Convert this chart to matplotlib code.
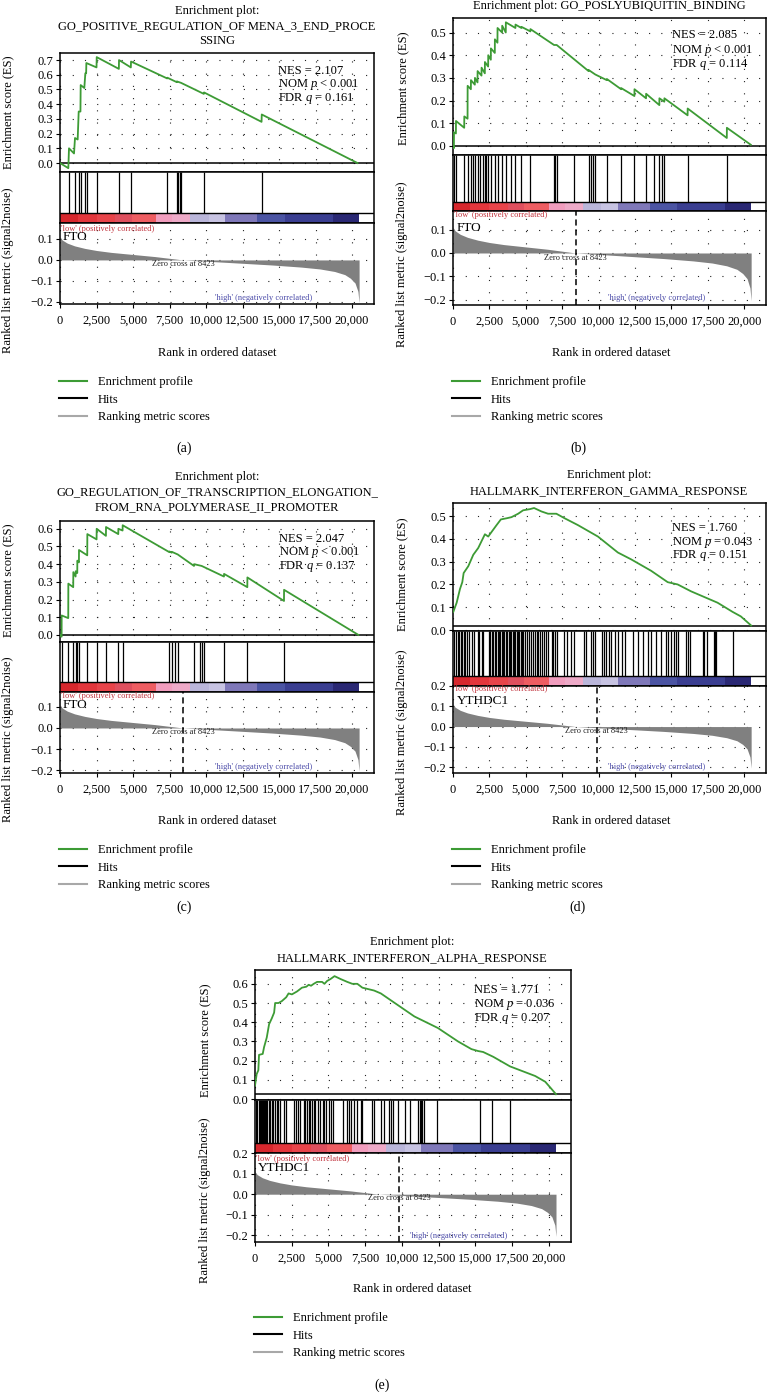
import matplotlib
matplotlib.use('Agg')
import matplotlib.pyplot as plt
from matplotlib.lines import Line2D
import numpy as np

plt.rcParams['font.family'] = ['Liberation Serif', 'DejaVu Serif']
plt.rcParams['mathtext.fontset'] = 'custom'
plt.rcParams['mathtext.it'] = 'Liberation Serif:italic'
plt.rcParams['mathtext.rm'] = 'Liberation Serif'
plt.rcParams['axes.unicode_minus'] = True

W, H, DPI = 769, 1392, 100

# ---------------- shared data ----------------
X_TICKS = [0, 2500, 5000, 7500, 10000, 12500, 15000, 17500, 20000]
RANK_PTS = [0, 150, 500, 1000, 1700, 2500, 3500, 5000, 6500, 8423, 10500, 12500,
            14500, 16500, 17800, 18800, 19500, 19900, 20200, 20400, 20480]
METRIC_PTS = [0.11, 0.095, 0.08, 0.067, 0.055, 0.045, 0.036, 0.026, 0.016, 0.0, -0.008,
              -0.016, -0.024, -0.034, -0.043, -0.055, -0.07, -0.088, -0.11, -0.15, -0.205]
CB_EDGES = [0, 1200, 2500, 3800, 4900, 6600, 7700, 8900, 10200, 11300, 13500, 15400, 18700, 20500]
CB_COLORS = ['#d7272d', '#e3363c', '#e8444a', '#df4f5e', '#ee5d62', '#f19dbe', '#eeaac8',
             '#bab6da', '#c7c3e2', '#7f78b9', '#4b54a3', '#3a3e91', '#2a2874']
LEGEND_LABELS = ['Enrichment profile', 'Hits', 'Ranking metric scores']
LOW_TEXT = "'low' (positively correlated)"
HIGH_TEXT = "'high' (negatively correlated)"
ZERO_TEXT = 'Zero cross at 8423'

# ---------------- panel (a) ----------------
A_TITLE = ['Enrichment plot:', 'GO_POSITIVE_REGULATION_OF MENA_3_END_PROCE', 'SSING']
A_HITS = [616, 1027, 1301, 1418, 1712, 1829, 2514, 4041, 4863, 7349, 7993, 8103, 8219,
          8288, 9863, 13815]
A_ES_RANK = [0, 570, 616, 960, 1027, 1210, 1280, 1400, 1416, 1665, 1735, 1790, 1804, 2500,
             2514, 4030, 4041, 4850, 4863, 7340, 7352, 7990, 8000, 8290, 9850, 9863, 13800,
             13815, 20370]
A_ES_VAL = [0.0, -0.035, 0.10, 0.065, 0.17, 0.16, 0.35, 0.35, 0.53, 0.51, 0.61, 0.61, 0.68,
            0.65, 0.72, 0.64, 0.70, 0.65, 0.69, 0.575, 0.58, 0.55, 0.555, 0.545, 0.47, 0.48,
            0.28, 0.33, 0.0]
A_STATS = ['NES = 2.107', 'NOM $p$ < 0.001', 'FDR $q$ = 0.161']
A_GENE = 'FTO'
A_ES_TICKS = [0.0, 0.1, 0.2, 0.3, 0.4, 0.5, 0.6, 0.7]
A_RK_TICKS = [-0.2, -0.1, 0.0, 0.1]

# ---------------- panel (b) ----------------
B_TITLE = ['Enrichment plot: GO_POSLYUBIQUITIN_BINDING']
B_HITS = [68, 205, 776, 1005, 1233, 1370, 1507, 1689, 1849, 2032, 2192, 2260, 2420, 2603,
          2877, 3059, 3379, 3630, 3973, 4292, 4703, 5320, 6941, 7032, 7123, 8311, 9315,
          9452, 9589, 9772, 10571, 11553, 12466, 13265, 13790, 14178, 14338, 14521,
          16119, 18813]
B_ES_RANK = [0, 60, 68, 200, 205, 770, 776, 1000, 1005, 1228, 1233, 1500, 1507, 1684, 1689,
             1958, 1963, 2187, 2192, 2415, 2420, 2598, 2603, 2872, 2877, 3054, 3059, 3374,
             3379, 3625, 3630, 4287, 4292, 4698, 4703, 5315, 5320, 6941, 7123, 9310, 9315,
             9772, 10566, 10571, 11548, 11553, 12461, 12466, 13260, 13265, 14173, 14178,
             14516, 14521, 16114, 16119, 18808, 18813, 20457]
B_ES_VAL = [0.0, -0.01, 0.06, 0.055, 0.11, 0.08, 0.13, 0.12, 0.265, 0.25, 0.29, 0.27, 0.30,
            0.28, 0.33, 0.31, 0.345, 0.32, 0.37, 0.35, 0.40, 0.38, 0.43, 0.41, 0.47, 0.455,
            0.52, 0.50, 0.53, 0.50, 0.545, 0.52, 0.535, 0.52, 0.525, 0.505, 0.515, 0.445,
            0.445, 0.33, 0.335, 0.315, 0.29, 0.295, 0.25, 0.255, 0.22, 0.25, 0.21, 0.23,
            0.18, 0.21, 0.195, 0.21, 0.135, 0.165, 0.035, 0.08, 0.005]
B_STATS = ['NES = 2.085', 'NOM $p$ < 0.001', 'FDR $q$ = 0.114']
B_GENE = 'FTO'
B_ZERO_POS = 8423
B_ES_TICKS = [0.0, 0.1, 0.2, 0.3, 0.4, 0.5]
B_RK_TICKS = [-0.2, -0.1, 0.0, 0.1]

# ---------------- panel (c) ----------------
C_TITLE = ['Enrichment plot:', 'GO_REGULATION_OF_TRANSCRIPTION_ELONGATION_',
           'FROM_RNA_POLYMERASE_II_PROMOTER']
C_HITS = [114, 571, 913, 1073, 1187, 1301, 1872, 2511, 3151, 3995, 4292, 7489, 7648, 7877,
          8059, 9178, 9589, 9703, 9863, 11233, 12831, 15342]
C_ES_RANK = [0, 110, 114, 565, 571, 905, 913, 1068, 1073, 1182, 1187, 1296, 1301, 1865,
             1872, 2505, 2511, 3145, 3151, 3990, 3995, 4285, 4292, 7485, 7489, 7645, 7648,
             8059, 9175, 9178, 9700, 11228, 11233, 12826, 12831, 15337, 15342, 20434]
C_ES_VAL = [0.0, -0.01, 0.11, 0.095, 0.29, 0.27, 0.355, 0.33, 0.36, 0.35, 0.42, 0.41, 0.48,
            0.45, 0.57, 0.54, 0.60, 0.56, 0.61, 0.57, 0.60, 0.59, 0.62, 0.468, 0.472, 0.465,
            0.47, 0.455, 0.39, 0.40, 0.39, 0.33, 0.345, 0.27, 0.325, 0.192, 0.255, 0.0]
C_STATS = ['NES = 2.047', 'NOM $p$ < 0.001', 'FDR $q$ = 0.137']
C_GENE = 'FTO'
C_ZERO_POS = 8423
C_ES_TICKS = [0.0, 0.1, 0.2, 0.3, 0.4, 0.5, 0.6]
C_RK_TICKS = [-0.2, -0.1, 0.0, 0.1]

# ---------------- panel (d) ----------------
D_TITLE = ['Enrichment plot:', 'HALLMARK_INTERFERON_GAMMA_RESPONSE']
D_HITS = [91, 183, 320, 411, 548, 639, 731, 822, 959, 1096, 1324, 1461, 1689, 1804, 1963,
          2078, 2466, 2557, 2648, 2763, 2877, 2968, 3059, 3151, 3242, 3333, 3425, 3516,
          3607, 3699, 3836, 3927, 4018, 4110, 4201, 4292, 4384, 4475, 4566, 4658, 4749,
          4840, 4932, 5068, 5205, 5342, 5479, 5616, 5753, 5845, 5982, 6119, 6256, 6393,
          6530, 6804, 6895, 7032, 7169, 7626, 7854, 8082, 8311, 8995, 9155, 9452, 9612,
          9726, 10228, 10365, 10525, 10685, 10868, 11096, 11324, 11598, 11781, 12352,
          12740, 13037, 13379, 13607, 13950, 14292, 14635, 14795, 14977, 15160, 15320,
          15434, 16005, 16164, 16301, 17146, 17260, 17443, 17900, 17991, 18082, 19201]
D_ES_RANK = [23, 251, 479, 639, 731, 1050, 1393, 1735, 1963, 2192, 2420, 2648, 2991, 3288,
             3676, 4018, 4475, 4817, 5274, 5570, 6073, 6529, 7100, 7671, 8584, 9954, 11324,
             12237, 13607, 14749, 15434, 16347, 17260, 18173, 19200, 19771, 20480]
D_ES_VAL = [0.08, 0.12, 0.18, 0.21, 0.25, 0.28, 0.33, 0.36, 0.39, 0.42, 0.41, 0.43, 0.46,
            0.485, 0.49, 0.495, 0.51, 0.525, 0.53, 0.535, 0.52, 0.51, 0.51, 0.49, 0.46, 0.41,
            0.34, 0.31, 0.26, 0.21, 0.20, 0.17, 0.145, 0.12, 0.08, 0.06, 0.02]
D_STATS = ['NES = 1.760', 'NOM $p$ = 0.043', 'FDR $q$ = 0.151']
D_GENE = 'YTHDC1'
D_ZERO_POS = 9860
D_ES_TICKS = [0.0, 0.1, 0.2, 0.3, 0.4, 0.5]
D_RK_TICKS = [-0.2, -0.1, 0.0, 0.1, 0.2]

# ---------------- panel (e) ----------------
E_TITLE = ['Enrichment plot:', 'HALLMARK_INTERFERON_ALPHA_RESPONSE']
E_HITS = [68, 160, 251, 342, 411, 479, 548, 616, 685, 753, 845, 936, 1027, 1142, 1256,
          1370, 1484, 1598, 1712, 1941, 2123, 2626, 2763, 2900, 3082, 3311, 3425, 3539,
          3653, 3767, 3881, 3995, 4110, 4269, 4452, 4635, 4726, 4863, 5023, 5183, 5320,
          5982, 6279, 6416, 6553, 6735, 6918, 7192, 7306, 7991, 8105, 8562, 8790, 9132,
          9247, 9361, 9703, 10205, 10571, 11119, 11210, 11301, 11393, 11530, 12397,
          15297, 16096, 17352]
E_ES_RANK = [0, 114, 228, 274, 525, 616, 799, 959, 1142, 1301, 1370, 1598, 1826, 2123, 2283,
             2511, 2854, 3196, 3493, 3653, 3813, 3995, 4224, 4566, 4726, 4908, 5137, 5411,
             5822, 6279, 6621, 6963, 7306, 8105, 8562, 9703, 10845, 11644, 12442, 13812,
             14725, 15182, 15524, 16209, 16666, 17351, 17694, 18378, 19063, 19748, 20090,
             20480]
E_ES_VAL = [0.07, 0.13, 0.15, 0.23, 0.235, 0.27, 0.32, 0.39, 0.42, 0.45, 0.50, 0.50, 0.51,
            0.53, 0.55, 0.545, 0.56, 0.58, 0.585, 0.595, 0.59, 0.60, 0.61, 0.61, 0.60, 0.615,
            0.625, 0.64, 0.625, 0.61, 0.60, 0.60, 0.58, 0.565, 0.55, 0.49, 0.43, 0.40, 0.37,
            0.30, 0.26, 0.25, 0.245, 0.22, 0.20, 0.17, 0.16, 0.14, 0.12, 0.09, 0.06, 0.025]
E_STATS = ['NES = 1.771', 'NOM $p$ = 0.036', 'FDR $q$ = 0.207']
E_GENE = 'YTHDC1'
E_ZERO_POS = 9800
E_ES_TICKS = [0.0, 0.1, 0.2, 0.3, 0.4, 0.5, 0.6]
E_RK_TICKS = [-0.2, -0.1, 0.0, 0.1, 0.2]

# ---------------- styling / layout (pixels) ----------------
GREEN = '#3d9b35'
FILLGRAY = '#808080'
FS = 9
SMALL = 6
GRID_KW = dict(linestyle=(0, (1, 10)), color='#222222', linewidth=0.8)

LAYOUTS = {
    'a': dict(l=60, r=374, es_t=53, es_b=172, cb_t=213, cb_b=223, rk_b=304,
              es_ylim=(-0.061, 0.748), rk_ylim=(-0.21, 0.176), zero_line=0.0,
              title_x=217, title_y=[11, 26, 41], stat_x=278, stat_y=[71, 85, 99],
              es_lab=(8, 112), rk_lab=(8, 270), low=(61, 229), gene=(63, 237),
              high=(215, 298), xlab=(217, 353), leg=(59, 376), letter=(184, 448)),
    'b': dict(l=453, r=766, es_t=18, es_b=155, cb_t=202, cb_b=211, rk_b=305,
              es_ylim=(-0.04, 0.564), rk_ylim=(-0.223, 0.18), zero_line=0.0,
              title_x=609, title_y=[6], stat_x=672, stat_y=[35, 50, 64],
              es_lab=(403, 88), rk_lab=(402, 264), low=(454, 215), gene=(457, 228),
              high=(608, 298), xlab=(611, 353), leg=(452, 376), letter=(578, 448)),
    'c': dict(l=60, r=374, es_t=521, es_b=642, cb_t=682, cb_b=692, rk_b=773,
              es_ylim=(-0.04, 0.644), rk_ylim=(-0.214, 0.171), zero_line=0.0,
              title_x=217, title_y=[477, 492, 507], stat_x=279, stat_y=[539, 553, 567],
              es_lab=(8, 580), rk_lab=(8, 739), low=(61, 696), gene=(63, 705),
              high=(215, 767), xlab=(217, 821), leg=(59, 844), letter=(184, 907)),
    'd': dict(l=453, r=766, es_t=503, es_b=631, cb_t=676, cb_b=686, rk_b=773,
              es_ylim=(-0.004, 0.557), rk_ylim=(-0.229, 0.195), zero_line=0.018,
              title_x=609, title_y=[475, 491], stat_x=672, stat_y=[528, 543, 556],
              es_lab=(402, 574), rk_lab=(402, 732), low=(454, 689), gene=(457, 701),
              high=(608, 767), xlab=(611, 821), leg=(452, 844), letter=(578, 907)),
    'e': dict(l=255, r=571, es_t=970, es_b=1100, cb_t=1143, cb_b=1153, rk_b=1242,
              es_ylim=(-0.005, 0.672), rk_ylim=(-0.232, 0.198), zero_line=0.025,
              title_x=412, title_y=[942, 958], stat_x=474, stat_y=[990, 1004, 1019],
              es_lab=(205, 1040), rk_lab=(205, 1200), low=(256, 1159), gene=(258, 1168),
              high=(410, 1236), xlab=(412, 1289), leg=(254, 1312), letter=(382, 1385)),
}


def fx(x):
    return x / W


def fy(y):
    return 1 - y / H


def rect(l, t, r, b):
    return [l / W, 1 - b / H, (r - l) / W, (b - t) / H]


def fmt1(v):
    s = f'{v:.1f}'
    if s == '-0.0':
        s = '0.0'
    return s.replace('-', '\u2212')


def draw_panel(fig, L, title, hits, es_rank, es_val, stats, gene, zero_pos,
               es_ticks, rk_ticks, letter):
    xlim = (0, 21500)
    ax_es = fig.add_axes(rect(L['l'], L['es_t'], L['r'], L['es_b']))
    ax_hit = fig.add_axes(rect(L['l'], L['es_b'], L['r'], L['cb_b']))
    ax_rk = fig.add_axes(rect(L['l'], L['cb_b'], L['r'], L['rk_b']))
    for ax in (ax_es, ax_hit, ax_rk):
        ax.set_xlim(xlim)
        for s in ax.spines.values():
            s.set_linewidth(1.1)
        ax.tick_params(labelsize=FS, length=3, width=0.8, pad=2)

    # enrichment score
    ax_es.set_ylim(L['es_ylim'])
    ax_es.set_yticks(es_ticks)
    ax_es.set_yticklabels([fmt1(v) for v in es_ticks])
    ax_es.set_xticks(X_TICKS)
    ax_es.tick_params(axis='x', length=0, labelbottom=False)
    ax_es.grid(True, **GRID_KW)
    ax_es.set_axisbelow(True)
    ax_es.axhline(L['zero_line'], color='black', lw=1.1, zorder=3)
    ax_es.plot(es_rank, es_val, color=GREEN, lw=1.3, zorder=4)
    for s, yy in zip(stats, L['stat_y']):
        fig.text(fx(L['stat_x']), fy(yy), s, fontsize=FS, ha='left', va='center')

    # hits + colour bar
    cbfrac = (L['cb_b'] - L['cb_t']) / (L['cb_b'] - L['es_b'])
    ax_hit.set_ylim(0, 1)
    ax_hit.set_xticks([])
    ax_hit.set_yticks([])
    ax_hit.bar(CB_EDGES[:-1], cbfrac, width=np.diff(CB_EDGES), align='edge',
               color=CB_COLORS, linewidth=0)
    ax_hit.vlines(hits, cbfrac, 1, color='black', lw=0.9)
    ax_hit.axhline(cbfrac, color='black', lw=1.0)

    # ranked list metric
    ax_rk.set_ylim(L['rk_ylim'])
    ax_rk.set_yticks(rk_ticks)
    ax_rk.set_yticklabels([fmt1(v) for v in rk_ticks])
    ax_rk.set_xticks(X_TICKS)
    ax_rk.set_xticklabels([f'{v:,}' for v in X_TICKS])
    ax_rk.tick_params(axis='x', pad=5)
    ax_rk.grid(True, **GRID_KW)
    ax_rk.set_axisbelow(True)
    ax_rk.fill_between(RANK_PTS, 0, METRIC_PTS, color=FILLGRAY, lw=0, zorder=2)
    text_x = 8423 if zero_pos is None else zero_pos
    if zero_pos is not None:
        ax_rk.axvline(zero_pos, color='black', lw=1.1, linestyle=(0, (4, 2.5)), zorder=3)
    ax_rk.text(text_x, -0.02, ZERO_TEXT, fontsize=SMALL, ha='center', va='center',
               color='#222222', zorder=4)

    fig.text(fx(L['low'][0]), fy(L['low'][1]), LOW_TEXT, fontsize=SMALL, color='#c0303a',
             ha='left', va='center')
    fig.text(fx(L['gene'][0]), fy(L['gene'][1]), gene, fontsize=FS + 0.5, ha='left',
             va='center')
    fig.text(fx(L['high'][0]), fy(L['high'][1]), HIGH_TEXT, fontsize=SMALL, color='#4a4aa8',
             ha='left', va='center')

    # titles and labels
    for line, yy in zip(title, L['title_y']):
        fig.text(fx(L['title_x']), fy(yy), line, fontsize=FS, ha='center', va='center')
    fig.text(fx(L['es_lab'][0]), fy(L['es_lab'][1]), 'Enrichment score (ES)', fontsize=FS,
             rotation=90, ha='center', va='center')
    fig.text(fx(L['rk_lab'][0]), fy(L['rk_lab'][1]), 'Ranked list metric (signal2noise)',
             fontsize=FS, rotation=90, ha='center', va='center')
    fig.text(fx(L['xlab'][0]), fy(L['xlab'][1]), 'Rank in ordered dataset', fontsize=FS,
             ha='center', va='center')
    fig.text(fx(L['letter'][0]), fy(L['letter'][1]), f'({letter})', fontsize=10,
             ha='center', va='center')

    handles = [Line2D([], [], color=GREEN, lw=1.5),
               Line2D([], [], color='black', lw=1.5),
               Line2D([], [], color='#a8a8a8', lw=1.5)]
    ax_rk.legend(handles, LEGEND_LABELS, loc='upper left',
                 bbox_to_anchor=(fx(L['leg'][0]), fy(L['leg'][1])),
                 bbox_transform=fig.transFigure, frameon=False, fontsize=FS,
                 handlelength=2.2, handletextpad=0.9, labelspacing=0.45,
                 borderpad=0, borderaxespad=0)


fig = plt.figure(figsize=(W / DPI, H / DPI), dpi=DPI)
draw_panel(fig, LAYOUTS['a'], A_TITLE, A_HITS, A_ES_RANK, A_ES_VAL, A_STATS, A_GENE, None,
           A_ES_TICKS, A_RK_TICKS, 'a')
draw_panel(fig, LAYOUTS['b'], B_TITLE, B_HITS, B_ES_RANK, B_ES_VAL, B_STATS, B_GENE,
           B_ZERO_POS, B_ES_TICKS, B_RK_TICKS, 'b')
draw_panel(fig, LAYOUTS['c'], C_TITLE, C_HITS, C_ES_RANK, C_ES_VAL, C_STATS, C_GENE,
           C_ZERO_POS, C_ES_TICKS, C_RK_TICKS, 'c')
draw_panel(fig, LAYOUTS['d'], D_TITLE, D_HITS, D_ES_RANK, D_ES_VAL, D_STATS, D_GENE,
           D_ZERO_POS, D_ES_TICKS, D_RK_TICKS, 'd')
draw_panel(fig, LAYOUTS['e'], E_TITLE, E_HITS, E_ES_RANK, E_ES_VAL, E_STATS, E_GENE,
           E_ZERO_POS, E_ES_TICKS, E_RK_TICKS, 'e')
fig.savefig('out.png', dpi=DPI)
